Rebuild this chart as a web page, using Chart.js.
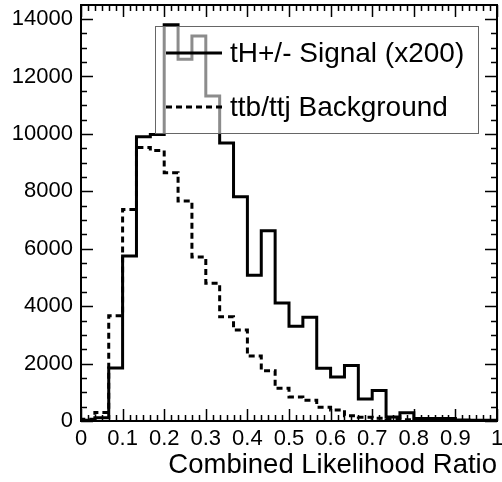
<!DOCTYPE html>
<html>
<head>
<meta charset="utf-8">
<script src="https://cdn.jsdelivr.net/npm/chart.js@4.4.1/dist/chart.umd.min.js"></script>
<style>
  html, body { margin: 0; padding: 0; background: #fff; }
</style>
</head>
<body>
<canvas id="lrChart" width="502" height="482"></canvas>
<script>
// histogram contents: 30 bins from 0 to 1
const binLow = 0;
const binHigh = 1;
const signalCounts = [30, 110, 1850, 5750, 9900, 9980, 13800, 12600, 13410, 11320,
    9680, 7810, 5080, 6630, 4110, 3300, 3610, 1840, 1530, 1930,
    770, 1060, 140, 290, 90, 90, 90, 35, 30, 30];
const backgroundCounts = [60, 300, 3670, 7370, 9530, 9420, 8650, 7660, 5710, 4800,
    3630, 3170, 2260, 1750, 1140, 840, 720, 480, 380, 180,
    130, 100, 60, 40, 30, 20, 15, 10, 5, 5];
const xTickValues = [0, 0.1, 0.2, 0.3, 0.4, 0.5, 0.6, 0.7, 0.8, 0.9, 1];
const xTickLabels = ["0", "0.1", "0.2", "0.3", "0.4", "0.5", "0.6", "0.7", "0.8", "0.9", "1"];
const yTickValues = [0, 2000, 4000, 6000, 8000, 10000, 12000, 14000];
const legendLabels = ["tH+/- Signal (x200)", "ttb/ttj Background"];
const xTitle = "Combined Likelihood Ratio";
const yMax = 14490;
const FONT = "'Liberation Sans', Arial, Helvetica, sans-serif";

// outline points of a step histogram
function histPoints(counts) {
    const w = (binHigh - binLow) / counts.length;
    const pts = [{ x: binLow, y: 0 }];
    counts.forEach((c, i) => pts.push({ x: binLow + i * w, y: c }));
    pts.push({ x: binHigh, y: counts[counts.length - 1] });
    pts.push({ x: binHigh, y: 0 });
    return pts;
}

// legend box drawn over the histograms (semi transparent like the original)
const legendBox = {
    id: "legendBox",
    afterDatasetsDraw(chart) {
        const ctx = chart.ctx;
        ctx.save();
        ctx.fillStyle = "rgba(255,255,255,0.55)";
        ctx.fillRect(155, 26, 323, 107);
        ctx.strokeStyle = "#666";
        ctx.lineWidth = 1;
        ctx.strokeRect(155.5, 26.5, 323, 107);

        const rows = [53, 107];
        chart.data.datasets.forEach((ds, i) => {
            ctx.beginPath();
            ctx.strokeStyle = "#000";
            ctx.lineWidth = ds.borderWidth;
            ctx.setLineDash(ds.borderDash || []);
            ctx.moveTo(166, rows[i]);
            ctx.lineTo(222, rows[i]);
            ctx.stroke();
            ctx.setLineDash([]);
            ctx.fillStyle = "#000";
            ctx.font = "28px " + FONT;
            ctx.textAlign = "left";
            ctx.textBaseline = "middle";
            ctx.fillText(legendLabels[i], 230, rows[i] + 1);
        });
        ctx.restore();
    }
};

// ROOT style frame with ticks on every side
const frameTicks = {
    id: "frameTicks",
    afterDraw(chart) {
        const { ctx, chartArea: a, scales } = chart;
        const xs = scales.x, ys = scales.y;
        ctx.save();
        ctx.strokeStyle = "#000";
        ctx.lineWidth = 2;
        ctx.strokeRect(a.left, a.top, a.right - a.left, a.bottom - a.top);

        ctx.lineWidth = 1.5;
        ctx.beginPath();
        // x axis: major every 0.1, 6 minor per major
        for (let k = 0; k <= 60; k++) {
            const px = Math.round(xs.getPixelForValue(k / 60)) + 0.5;
            const len = k % 6 === 0 ? 12 : 6;
            ctx.moveTo(px, a.bottom); ctx.lineTo(px, a.bottom - len);
            ctx.moveTo(px, a.top); ctx.lineTo(px, a.top + len);
        }
        // y axis: major every 2000, minor every 500
        for (let v = 0; v <= yMax; v += 500) {
            const py = Math.round(ys.getPixelForValue(v)) + 0.5;
            const len = v % 2000 === 0 ? 12 : 6;
            ctx.moveTo(a.left, py); ctx.lineTo(a.left + len, py);
            ctx.moveTo(a.right, py); ctx.lineTo(a.right - len, py);
        }
        ctx.stroke();
        ctx.restore();
    }
};

const chart = new Chart(document.getElementById("lrChart"), {
    type: "line",
    data: {
        datasets: [
            {
                label: legendLabels[0],
                data: histPoints(signalCounts),
                borderColor: "#000",
                borderWidth: 3,
                stepped: true,
                pointRadius: 0,
                fill: false
            },
            {
                label: legendLabels[1],
                data: histPoints(backgroundCounts),
                borderColor: "#000",
                borderWidth: 3,
                borderDash: [6, 4],
                stepped: true,
                pointRadius: 0,
                fill: false
            }
        ]
    },
    options: {
        responsive: false,
        animation: false,
        layout: { padding: { top: 5, right: 5, left: 0, bottom: 0 } },
        plugins: {
            legend: { display: false },
            tooltip: { enabled: false }
        },
        scales: {
            x: {
                type: "linear",
                min: binLow,
                max: binHigh,
                grid: { display: false, drawTicks: false },
                border: { display: false },
                afterBuildTicks: s => { s.ticks = xTickValues.map(v => ({ value: v })); },
                ticks: {
                    padding: 5,
                    maxRotation: 0,
                    autoSkip: false,
                    color: "#000",
                    font: { family: FONT, size: 22 },
                    callback: (v, i) => xTickLabels[i]
                },
                title: {
                    display: true,
                    text: xTitle,
                    align: "end",
                    color: "#000",
                    font: { family: FONT, size: 27.5, lineHeight: 1 },
                    padding: { top: 0, bottom: 3 }
                },
                afterFit: s => { s.height = 61; s.paddingLeft = 0; s.paddingRight = 0; }
            },
            y: {
                min: 0,
                max: yMax,
                grid: { display: false, drawTicks: false },
                border: { display: false },
                afterBuildTicks: s => { s.ticks = yTickValues.map(v => ({ value: v })); },
                ticks: {
                    padding: 8,
                    autoSkip: false,
                    color: "#000",
                    font: { family: FONT, size: 22 },
                    callback: v => String(v)
                },
                afterFit: s => { s.width = 81; s.paddingTop = 0; s.paddingBottom = 0; }
            }
        }
    },
    plugins: [legendBox, frameTicks]
});
</script>
</body>
</html>
